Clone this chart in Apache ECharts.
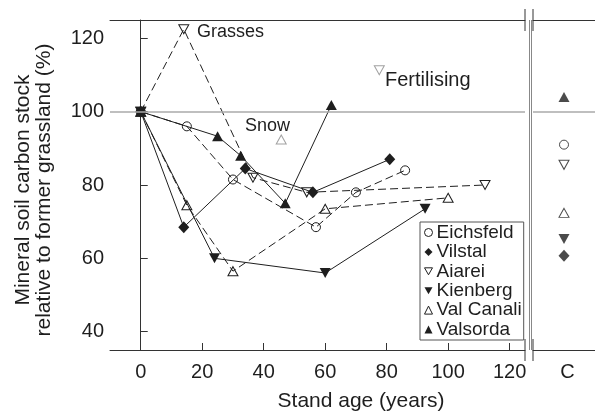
<!DOCTYPE html>
<html>
<head>
<meta charset="utf-8">
<script src="https://cdn.jsdelivr.net/npm/echarts@6/dist/echarts.min.js"></script>
<style>
  html, body { margin: 0; padding: 0; background: #fff; }
  #chart { width: 595px; height: 414px; }
</style>
</head>
<body>
<div id="chart"></div>
<script>
const FONT = "'Liberation Sans', Arial, sans-serif";
const ink = '#1e1e1e';

// stand age (years) and carbon stock (% of former grassland) per site
const eichsfeldAge = [0, 15, 30, 57, 70, 86];
const eichsfeldC = [100, 96, 81.5, 68.5, 78, 84];
const vilstalAge = [0, 14, 34, 56, 81];
const vilstalC = [100, 68.5, 84.5, 78, 87];
const aiareiAge = [0, 14, 36.5, 54, 112];
const aiareiC = [100, 122.5, 82, 78, 80];
const kienbergAge = [0, 24, 60, 92.5];
const kienbergC = [100, 60, 56, 73.5];
const valCanaliAge = [0, 15, 30, 60, 100];
const valCanaliC = [100, 74.5, 56.5, 73.5, 76.5];
const valsordaAge = [0, 25, 32.5, 47, 62];
const valsordaC = [100, 93.3, 88, 75, 101.8];

// control plots (C)
const controlC = {
  Eichsfeld: 91, Vilstal: 60.7, Aiarei: 85.5,
  Kienberg: 65.3, 'Val Canali': 72.4, Valsorda: 104
};

// special plots
const snowPoint = [45.7, 92.4];
const fertilisingPoint = [77.6, 111.3];

const xTicks = [0, 20, 40, 60, 80, 100, 120];
const yTicks = [40, 60, 80, 100, 120];

const downTri = 'path://M0,0L10,0L5,8.7Z';
const pair = (xs, ys) => xs.map((x, i) => [x, ys[i]]);

const sites = [
  { name: 'Eichsfeld', age: eichsfeldAge, c: eichsfeldC, symbol: 'circle', size: 9, hollow: true, dashed: true },
  { name: 'Vilstal', age: vilstalAge, c: vilstalC, symbol: 'diamond', size: [11, 12], hollow: false, dashed: false },
  { name: 'Aiarei', age: aiareiAge, c: aiareiC, symbol: downTri, size: [10, 9], hollow: true, dashed: true },
  { name: 'Kienberg', age: kienbergAge, c: kienbergC, symbol: downTri, size: [11, 10], hollow: false, dashed: false },
  { name: 'Val Canali', age: valCanaliAge, c: valCanaliC, symbol: 'triangle', size: [10, 9], hollow: true, dashed: true },
  { name: 'Valsorda', age: valsordaAge, c: valsordaC, symbol: 'triangle', size: [11, 10], hollow: false, dashed: false }
];

const markStyle = (s, color) => ({
  color: s.hollow ? 'transparent' : color,
  borderColor: color,
  borderWidth: s.hollow ? 1 : 0
});

const refLine = {
  silent: true, symbol: 'none', label: { show: false },
  lineStyle: { color: '#aaa', width: 1.5, type: 'solid' },
  data: [{ yAxis: 100 }]
};

const series = [];
sites.forEach((s, i) => {
  series.push({
    name: s.name,
    type: 'line',
    xAxisIndex: 0, yAxisIndex: 0,
    data: pair(s.age, s.c),
    symbol: s.symbol,
    symbolSize: s.size,
    showAllSymbol: true,
    lineStyle: { color: ink, width: 1, type: s.dashed ? [8, 4] : 'solid' },
    itemStyle: markStyle(s, ink),
    z: 3,
    markLine: i === 0 ? refLine : undefined
  });
  series.push({
    name: s.name,
    type: 'scatter',
    xAxisIndex: 1, yAxisIndex: 1,
    data: [['C', controlC[s.name]]],
    symbol: s.symbol,
    symbolSize: s.size,
    itemStyle: markStyle(s, ink),
    z: 3,
    markLine: i === 0 ? refLine : undefined
  });
});

series.push({
  type: 'scatter', xAxisIndex: 0, yAxisIndex: 0,
  data: [snowPoint], symbol: 'triangle', symbolSize: [10, 9],
  itemStyle: { color: 'transparent', borderColor: '#8a8a8a', borderWidth: 1 }
});
series.push({
  type: 'scatter', xAxisIndex: 0, yAxisIndex: 0,
  data: [fertilisingPoint], symbol: downTri, symbolSize: [10, 9],
  itemStyle: { color: 'transparent', borderColor: '#8a8a8a', borderWidth: 1 }
});

const axisLine = { show: true, lineStyle: { color: '#333', width: 1 } };
const blankAxis = {
  axisLine: axisLine, axisTick: { show: false },
  axisLabel: { show: false }, splitLine: { show: false }
};

const vline = (x, y1, y2, color) => ({
  type: 'line', shape: { x1: x, y1: y1, x2: x, y2: y2 },
  style: { stroke: color, lineWidth: 1 }, silent: true
});

const chart = echarts.init(document.getElementById('chart'));
chart.setOption({
  animation: false,
  textStyle: { fontFamily: FONT, color: ink },
  grid: [
    { left: 110, top: 20, width: 415, height: 330 },
    { left: 533, top: 20, width: 70, height: 330 }
  ],
  xAxis: [
    {
      type: 'value', gridIndex: 0, min: -10, max: 125,
      axisLine: axisLine,
      axisTick: { inside: true, length: 7, customValues: xTicks, lineStyle: { color: '#333' } },
      axisLabel: { customValues: xTicks, fontSize: 20, color: ink, margin: 12, fontFamily: FONT },
      splitLine: { show: false }
    },
    {
      type: 'category', gridIndex: 1, data: ['C'],
      axisLine: axisLine, axisTick: { show: false },
      axisLabel: { fontSize: 20, color: ink, margin: 12, padding: [0, 0, 0, 7], fontFamily: FONT },
      splitLine: { show: false }
    },
    Object.assign({ type: 'value', gridIndex: 0, position: 'top', min: -10, max: 125 }, blankAxis),
    Object.assign({ type: 'value', gridIndex: 1, position: 'top', min: 0, max: 1 }, blankAxis)
  ],
  yAxis: [
    {
      type: 'value', gridIndex: 0, min: 35, max: 125,
      axisLine: axisLine,
      axisTick: { inside: true, length: 7, customValues: yTicks, lineStyle: { color: '#333' } },
      axisLabel: { customValues: yTicks, fontSize: 20, color: ink, margin: 6, fontFamily: FONT },
      splitLine: { show: false }
    },
    {
      type: 'value', gridIndex: 1, min: 35, max: 125,
      axisLine: { show: false }, axisTick: { show: false },
      axisLabel: { show: false }, splitLine: { show: false }
    }
  ],
  legend: {
    orient: 'vertical',
    left: 420, top: 222,
    padding: [1, 2, 1, 4],
    itemWidth: 8, itemHeight: 8, itemGap: 0.4,
    backgroundColor: '#fff',
    borderColor: '#555', borderWidth: 1,
    textStyle: { fontSize: 19, lineHeight: 18.4, color: ink, fontFamily: FONT, padding: [0, 0, 0, -1] },
    data: sites.map(s => ({ name: s.name, icon: s.symbol, itemStyle: markStyle(s, ink) }))
  },
  graphic: [
    vline(525, 9, 31, '#333'), vline(533, 9, 31, '#333'),
    vline(525, 339, 361, '#333'), vline(533, 339, 361, '#333'),
    vline(529.5, 20, 350, '#888'), vline(531.5, 20, 350, '#888'),
    {
      type: 'text', x: 34, y: 190, rotation: Math.PI / 2,
      style: {
        text: 'Mineral soil carbon stock\nrelative to former grassland (%)',
        font: '21px ' + FONT, fill: ink, lineHeight: 21,
        textAlign: 'center', textVerticalAlign: 'middle'
      }
    },
    {
      type: 'text', x: 361, y: 401,
      style: { text: 'Stand age (years)', font: '21px ' + FONT, fill: ink, textAlign: 'center', textVerticalAlign: 'middle' }
    },
    { type: 'text', x: 197, y: 32, style: { text: 'Grasses', font: '18px ' + FONT, fill: ink, textVerticalAlign: 'middle' } },
    { type: 'text', x: 245, y: 126, style: { text: 'Snow', font: '18px ' + FONT, fill: ink, textVerticalAlign: 'middle' } },
    { type: 'text', x: 385, y: 80, style: { text: 'Fertilising', font: '20px ' + FONT, fill: ink, textVerticalAlign: 'middle' } }
  ],
  series: series
});
</script>
</body>
</html>
